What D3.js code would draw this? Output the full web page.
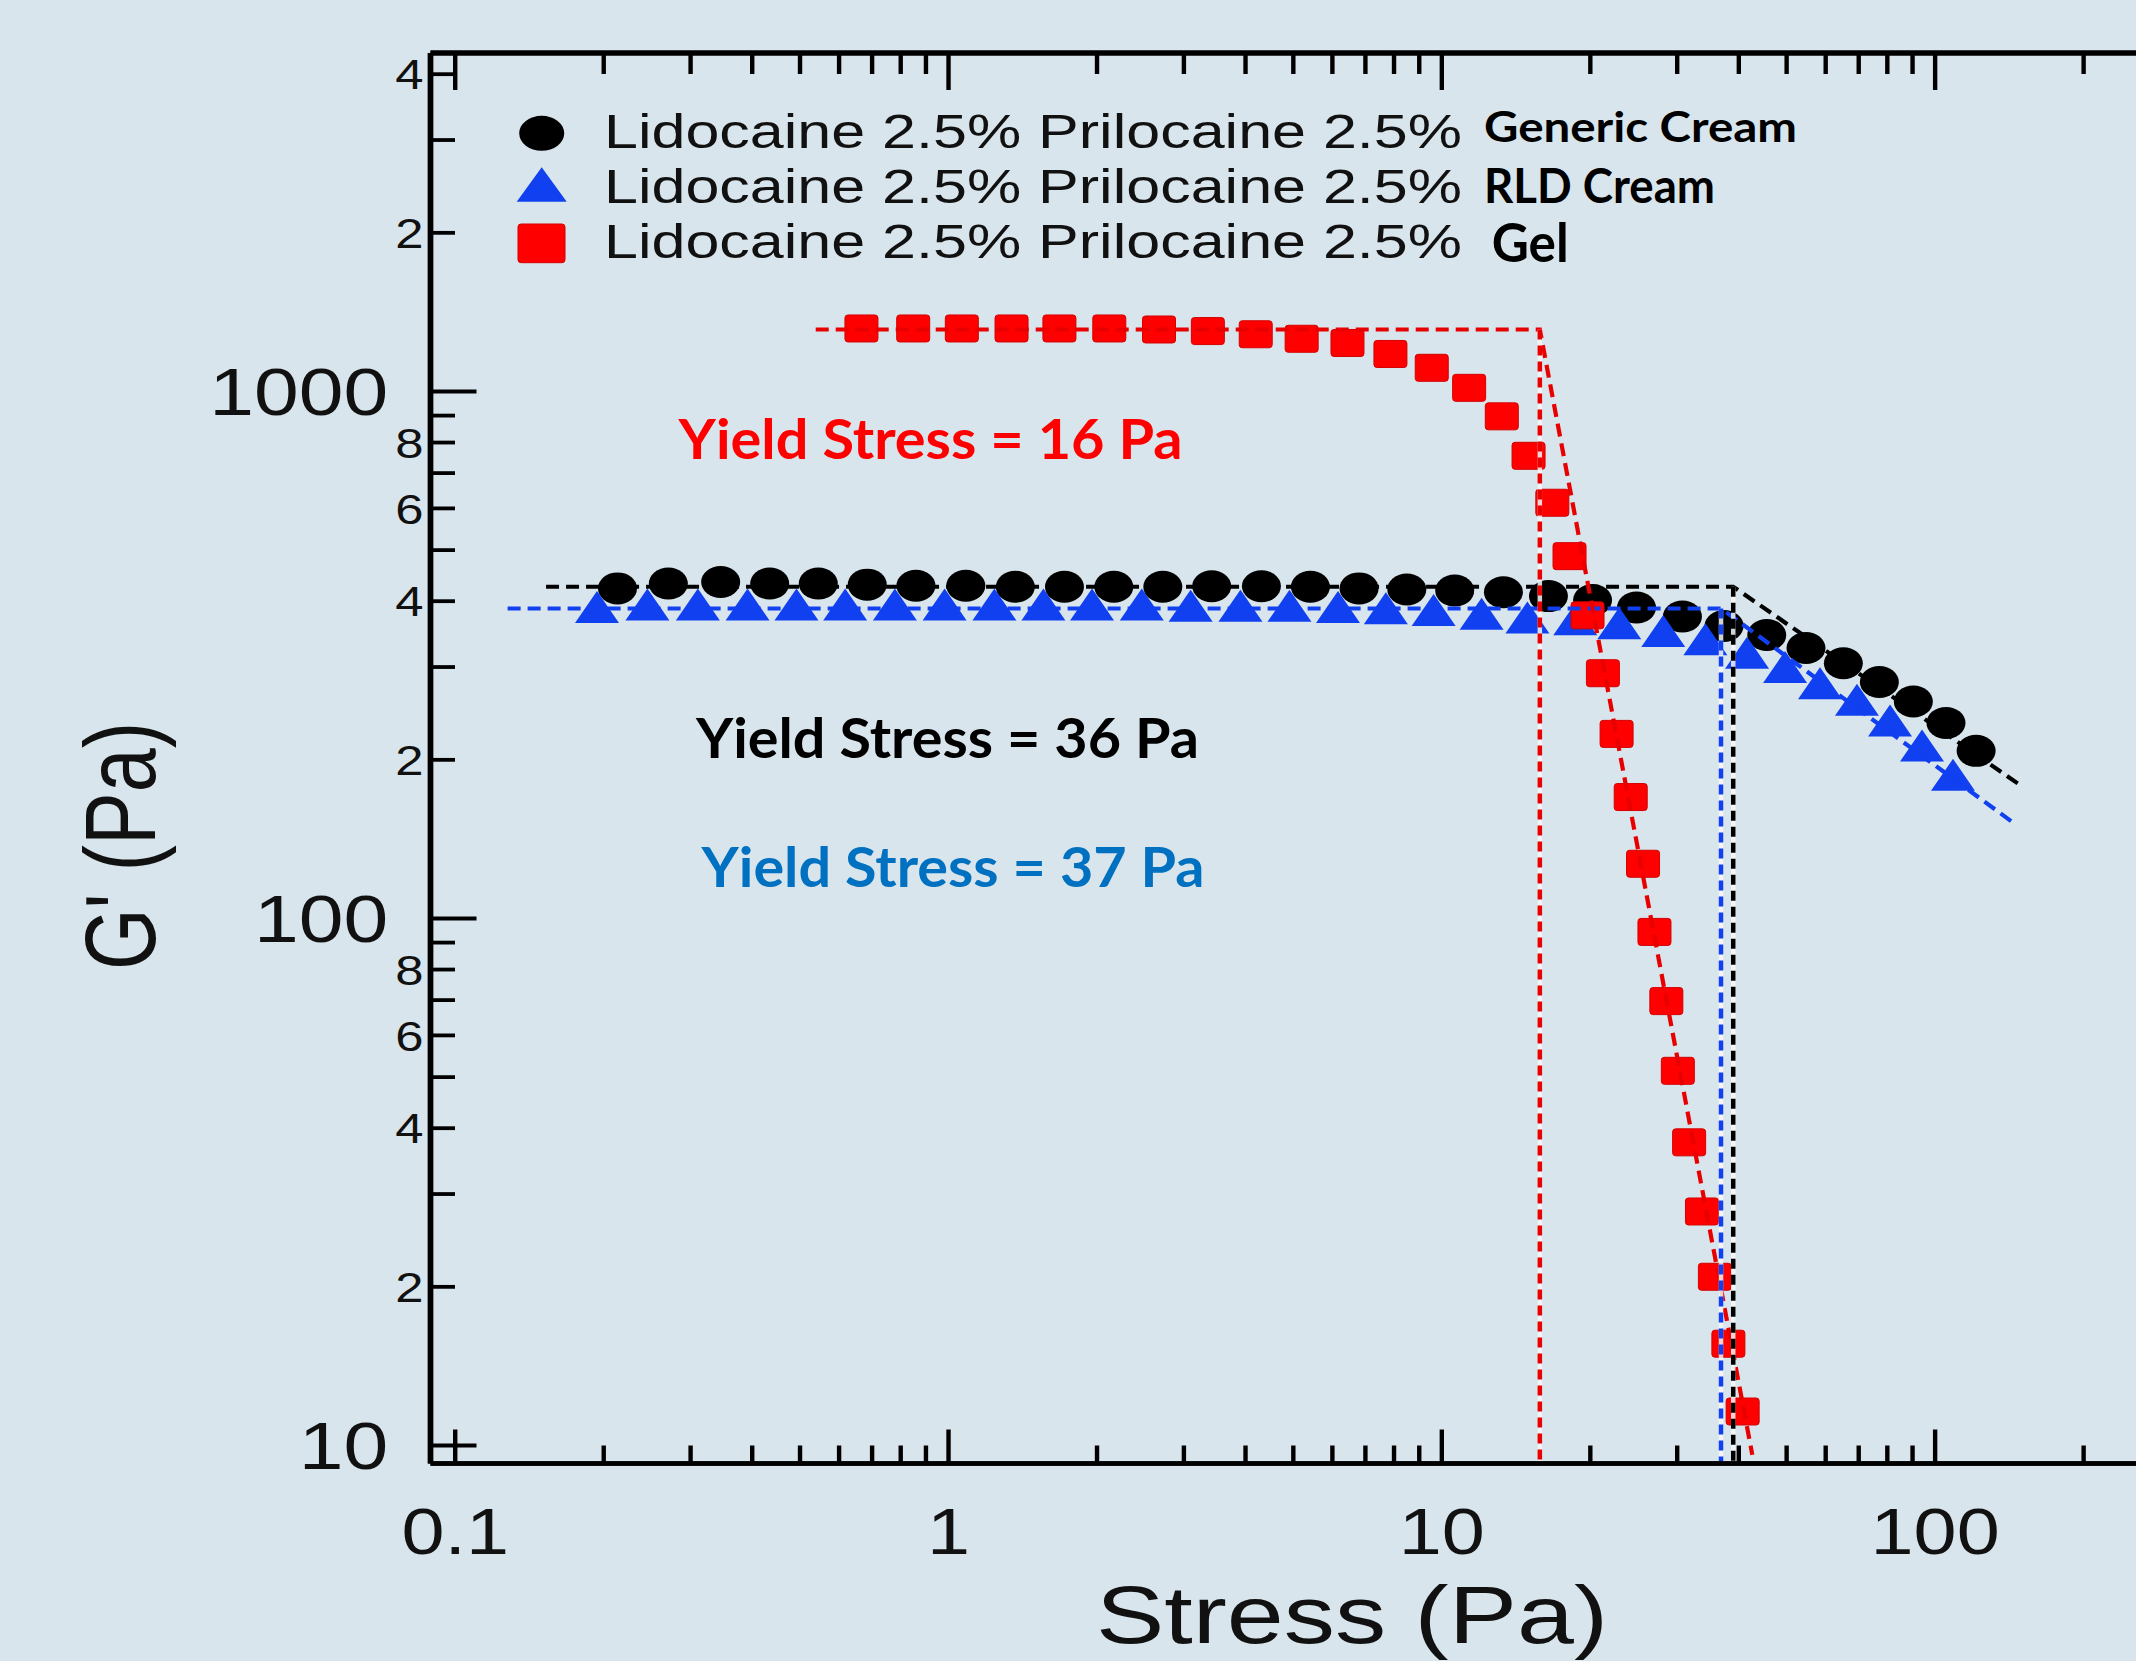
<!DOCTYPE html>
<html><head><meta charset="utf-8">
<script src="https://cdn.jsdelivr.net/npm/d3@7"></script>
<style>html,body{margin:0;padding:0;background:#d9e5ec;} svg{display:block;}</style>
</head><body>
<svg id="chart" width="2136" height="1661"></svg>
<script>
// ---------------- data ----------------
const stressGeneric = [0.2133, 0.2704, 0.3452, 0.4340, 0.5445, 0.6843, 0.8590, 1.084, 1.366, 1.718, 2.163, 2.719, 3.416, 4.308, 5.415, 6.795, 8.492, 10.62, 13.33, 16.45, 20.21, 24.81, 30.74, 37.34, 45.57, 54.73, 65.16, 77.08, 90.33, 105.2, 121.1];
const gGeneric = [423, 432, 435, 432, 432, 430, 428, 428, 426, 426, 426, 426, 427, 427, 426, 423, 421, 419, 416, 409, 402, 389, 374, 359, 345, 326, 305, 281, 258, 235, 208];

const stressRLD = [0.1938, 0.2452, 0.3103, 0.3914, 0.4918, 0.6172, 0.7786, 0.9819, 1.239, 1.557, 1.954, 2.465, 3.096, 3.906, 4.911, 6.160, 7.700, 9.625, 12.04, 14.91, 18.64, 22.89, 28.11, 34.22, 41.57, 49.63, 58.44, 69.43, 81.03, 94.06, 108.7];
const gRLD = [381, 385, 385, 385, 385, 385, 385, 385, 385, 385, 385, 385, 383, 383, 383, 381, 379, 376, 370, 364, 361, 355, 343, 331, 312, 293, 273, 254, 232, 208, 183];

const stressGel = [0.666, 0.848, 1.064, 1.342, 1.678, 2.118, 2.671, 3.355, 4.195, 5.198, 6.438, 7.867, 9.54, 11.36, 13.23, 14.99, 16.75, 18.15, 19.74, 21.21, 22.61, 24.15, 25.58, 26.98, 28.52, 30.09, 31.72, 33.68, 35.77, 38.10, 40.72];
const gGel = [1317, 1317, 1317, 1317, 1317, 1317, 1311, 1302, 1284, 1259, 1236, 1178, 1109, 1016, 897, 755, 615, 487, 376, 292, 224, 170, 127, 94.3, 69.7, 51.4, 37.6, 27.8, 20.9, 15.6, 11.6];

// fitted (dashed) lines: plateau -> corner -> decline
const fitGenericX = [0.1528, 38.97, 148.6];
const fitGenericY = [426.1, 426.1, 179.2];
const fitRLDX = [0.1277, 36.81, 143];
const fitRLDY = [387.4, 387.4, 152.7];
const fitGelX = [0.538, 15.8, 42.6];
const fitGelY = [1311, 1311, 9.6];

// yield stress verticals (stress, G' at corner)
const yieldGenericX = 38.97, yieldGenericY = 426.1;
const yieldRLDX = 36.81, yieldRLDY = 387.4;
const yieldGelX = 15.8, yieldGelY = 1311;

const legendLabels = ["Lidocaine 2.5% Prilocaine 2.5%", "Lidocaine 2.5% Prilocaine 2.5%", "Lidocaine 2.5% Prilocaine 2.5%"];
const legendSuffixes = ["Generic Cream", "RLD Cream", "Gel"];
const yieldLabels = ["Yield Stress = 16 Pa", "Yield Stress = 36 Pa", "Yield Stress = 37 Pa"];

const xMajorTicks = [0.1, 1, 10, 100];
const xMinorTicks = [0.2,0.3,0.4,0.5,0.6,0.7,0.8,0.9, 2,3,4,5,6,7,8,9, 20,30,40,50,60,70,80,90, 200,300];
const yMajorTicks = [10, 100, 1000];
const yMinorTicks = [20,30,40,50,60,70,80,90, 200,300,400,500,600,700,800,900, 2000,3000,4000];
const yMinorLabeled = [20,40,60,80, 200,400,600,800, 2000,4000];

const xTitle = "Stress (Pa)";
const yTitle = "G' (Pa)";

// ---------------- layout ----------------
const W = 2136, H = 1661;
const BG = "#d9e5ec";
const ARIAL = "'Liberation Sans', Arial, Helvetica, sans-serif";
const CAL = "Lato, 'Open Sans', sans-serif";
const SX = 1.21; // horizontal stretch of the original figure
const BLUE = "#1040f0", RED = "#ff0000", REDLINE = "#e80000";

const svg = d3.select("#chart");
svg.append("rect").attr("width", W).attr("height", H).attr("fill", BG);

const X0 = 430.5, DEC_X = 493.3, xMin = 0.0891, xMax = 400;
const x = d3.scaleLog().domain([xMin, xMax]).range([X0, X0 + DEC_X * Math.log10(xMax / xMin)]);
const yBottom = 1463.5, yTop = 53;
const y = d3.scaleLog().domain([9.243, 4388]).range([yBottom, yTop]);

// ---------------- markers ----------------
const gMarks = svg.append("g");
gMarks.append("g").selectAll("ellipse")
  .data(d3.zip(stressGeneric, gGeneric)).join("ellipse")
  .attr("cx", d => x(d[0])).attr("cy", d => y(d[1]))
  .attr("rx", 19.5).attr("ry", 16).attr("fill", "#000");

const TRI_W = 22, TRI_H = 32;
const triPath = `M0,${-2*TRI_H/3} L${TRI_W},${TRI_H/3} L${-TRI_W},${TRI_H/3} Z`;
gMarks.append("g").selectAll("path")
  .data(d3.zip(stressRLD, gRLD)).join("path")
  .attr("d", triPath)
  .attr("transform", d => `translate(${x(d[0])},${y(d[1])})`)
  .attr("fill", BLUE);

gMarks.append("g").selectAll("rect")
  .data(d3.zip(stressGel, gGel)).join("rect")
  .attr("x", d => x(d[0]) - 16.5).attr("y", d => y(d[1]) - 13.5)
  .attr("width", 33).attr("height", 27).attr("rx", 3)
  .attr("fill", RED).attr("stroke", "#d40000").attr("stroke-width", 1);

// ---------------- fitted lines ----------------
const line = d3.line().x(d => x(d[0])).y(d => y(d[1]));
const gLines = svg.append("g").attr("fill", "none");
function fit(xs, ys, color) {
  gLines.append("path").attr("d", line(d3.zip(xs, ys)))
    .attr("stroke", color).attr("stroke-width", 4.2).attr("stroke-dasharray", "13,7");
}
function vline(xv, yv, color) {
  const pts = [[xv, yv], [xv, y.domain()[0]]];
  gLines.append("path").attr("d", line(pts)).attr("stroke", "#f4f8fa")
    .attr("stroke-width", 4.5).attr("opacity", 0.85);
  gLines.append("path").attr("d", line(pts)).attr("stroke", color)
    .attr("stroke-width", 4.5).attr("stroke-dasharray", "10,6");
}
fit(fitGenericX, fitGenericY, "#000");
fit(fitRLDX, fitRLDY, BLUE);
fit(fitGelX, fitGelY, REDLINE);
vline(yieldGelX, yieldGelY, REDLINE);
vline(yieldRLDX, yieldRLDY, BLUE);
vline(yieldGenericX, yieldGenericY, "#000");

// ---------------- axes ----------------
function styleAxis(g, sw) {
  g.attr("font-family", ARIAL);
  g.selectAll(".domain").attr("stroke", "#000").attr("stroke-width", sw);
  g.selectAll(".tick line").attr("stroke", "#000");
}
// bottom
const gxMin = svg.append("g").attr("transform", `translate(0,${yBottom})`)
  .call(d3.axisBottom(x).tickValues(xMinorTicks).tickSize(-18).tickSizeOuter(0).tickFormat("").offset(0));
styleAxis(gxMin, 4.6); gxMin.selectAll(".tick line").attr("stroke-width", 4.4);
const gxMaj = svg.append("g").attr("transform", `translate(0,${yBottom})`)
  .call(d3.axisBottom(x).tickValues(xMajorTicks).tickSize(-34).tickSizeOuter(0).tickFormat(d => String(d)).offset(0));
styleAxis(gxMaj, 4.6); gxMaj.selectAll(".tick line").attr("stroke-width", 4.4);
gxMaj.selectAll(".tick text").attr("y", 90.5).attr("dy", 0)
  .attr("font-size", 64).attr("fill", "#111").attr("transform", `scale(${SX},1)`);
// top
const gtMin = svg.append("g").attr("transform", `translate(0,${yTop})`)
  .call(d3.axisTop(x).tickValues(xMinorTicks).tickSize(-21).tickSizeOuter(0).tickFormat("").offset(0));
styleAxis(gtMin, 4.8); gtMin.selectAll(".tick line").attr("stroke-width", 4.4);
const gtMaj = svg.append("g").attr("transform", `translate(0,${yTop})`)
  .call(d3.axisTop(x).tickValues(xMajorTicks).tickSize(-37).tickSizeOuter(0).tickFormat("").offset(0));
styleAxis(gtMaj, 4.8); gtMaj.selectAll(".tick line").attr("stroke-width", 4.4);
// left
const gyMin = svg.append("g").attr("transform", `translate(${X0},0)`)
  .call(d3.axisLeft(y).tickValues(yMinorTicks).tickSize(-24.5).tickSizeOuter(0)
    .tickFormat(d => yMinorLabeled.includes(d) ? String(d)[0] : "").offset(0));
styleAxis(gyMin, 5.4); gyMin.selectAll(".tick line").attr("stroke-width", 3.8);
gyMin.selectAll(".tick text").attr("x", -7 / SX).attr("dy", "0.36em")
  .attr("font-size", 42).attr("fill", "#111").attr("transform", `scale(${SX},1)`);
const gyMaj = svg.append("g").attr("transform", `translate(${X0},0)`)
  .call(d3.axisLeft(y).tickValues(yMajorTicks).tickSize(-46).tickSizeOuter(0).tickFormat(d => String(d)).offset(0));
styleAxis(gyMaj, 5.4); gyMaj.selectAll(".tick line").attr("stroke-width", 3.8);
gyMaj.selectAll(".tick text").attr("x", -42.2 / SX).attr("dy", "0.36em")
  .attr("font-size", 66.5).attr("fill", "#111").attr("transform", `scale(${SX},1)`);

// axis titles
svg.append("text").attr("x", 1096).attr("y", 1643)
  .attr("font-family", ARIAL).attr("font-size", 81.5).attr("fill", "#111")
  .attr("textLength", 512).attr("lengthAdjust", "spacingAndGlyphs").text(xTitle);
svg.append("text").attr("transform", `translate(155,970) scale(1.22,1) rotate(-90)`)
  .attr("font-family", ARIAL).attr("font-size", 82).attr("fill", "#111")
  .attr("textLength", 248).attr("lengthAdjust", "spacingAndGlyphs").text(yTitle);

// ---------------- legend ----------------
const gLeg = svg.append("g");
gLeg.append("ellipse").attr("cx", 541.7).attr("cy", 133.3).attr("rx", 22.5).attr("ry", 17.5).attr("fill", "#000");
gLeg.append("path").attr("d", "M541.7,167.3 L566.7,201.7 L516.7,201.7 Z").attr("fill", BLUE);
gLeg.append("rect").attr("x", 518).attr("y", 224).attr("width", 47).attr("height", 38.7).attr("rx", 3)
  .attr("fill", RED).attr("stroke", "#d40000").attr("stroke-width", 1);
const legBase = [148.3, 203.3, 258.3];
legendLabels.forEach((t, i) => {
  gLeg.append("text").attr("x", 604).attr("y", legBase[i])
    .attr("font-family", ARIAL).attr("font-size", 49).attr("fill", "#111")
    .attr("textLength", 858).attr("lengthAdjust", "spacingAndGlyphs").text(t);
});
const sufX = [1484, 1484, 1491.7], sufY = [141.7, 202.7, 261.7], sufF = [41.5, 48, 53], sufW = [313, 231, 77];
legendSuffixes.forEach((t, i) => {
  gLeg.append("text").attr("x", sufX[i]).attr("y", sufY[i])
    .attr("font-family", CAL).attr("font-weight", 700).attr("font-size", sufF[i]).attr("fill", "#000")
    .attr("textLength", sufW[i]).attr("lengthAdjust", "spacingAndGlyphs").text(t);
});

// ---------------- yield annotations ----------------
const yX = [678.6, 695.9, 701.5], yY = [458.6, 758.2, 887], yC = ["#ff0000", "#000000", "#0070c0"], yWd = [504, 503, 503];
yieldLabels.forEach((t, i) => {
  svg.append("text").attr("x", yX[i]).attr("y", yY[i])
    .attr("font-family", CAL).attr("font-weight", 700).attr("font-size", 56).attr("fill", yC[i])
    .attr("textLength", yWd[i]).attr("lengthAdjust", "spacingAndGlyphs").text(t);
});
</script>
</body></html>
